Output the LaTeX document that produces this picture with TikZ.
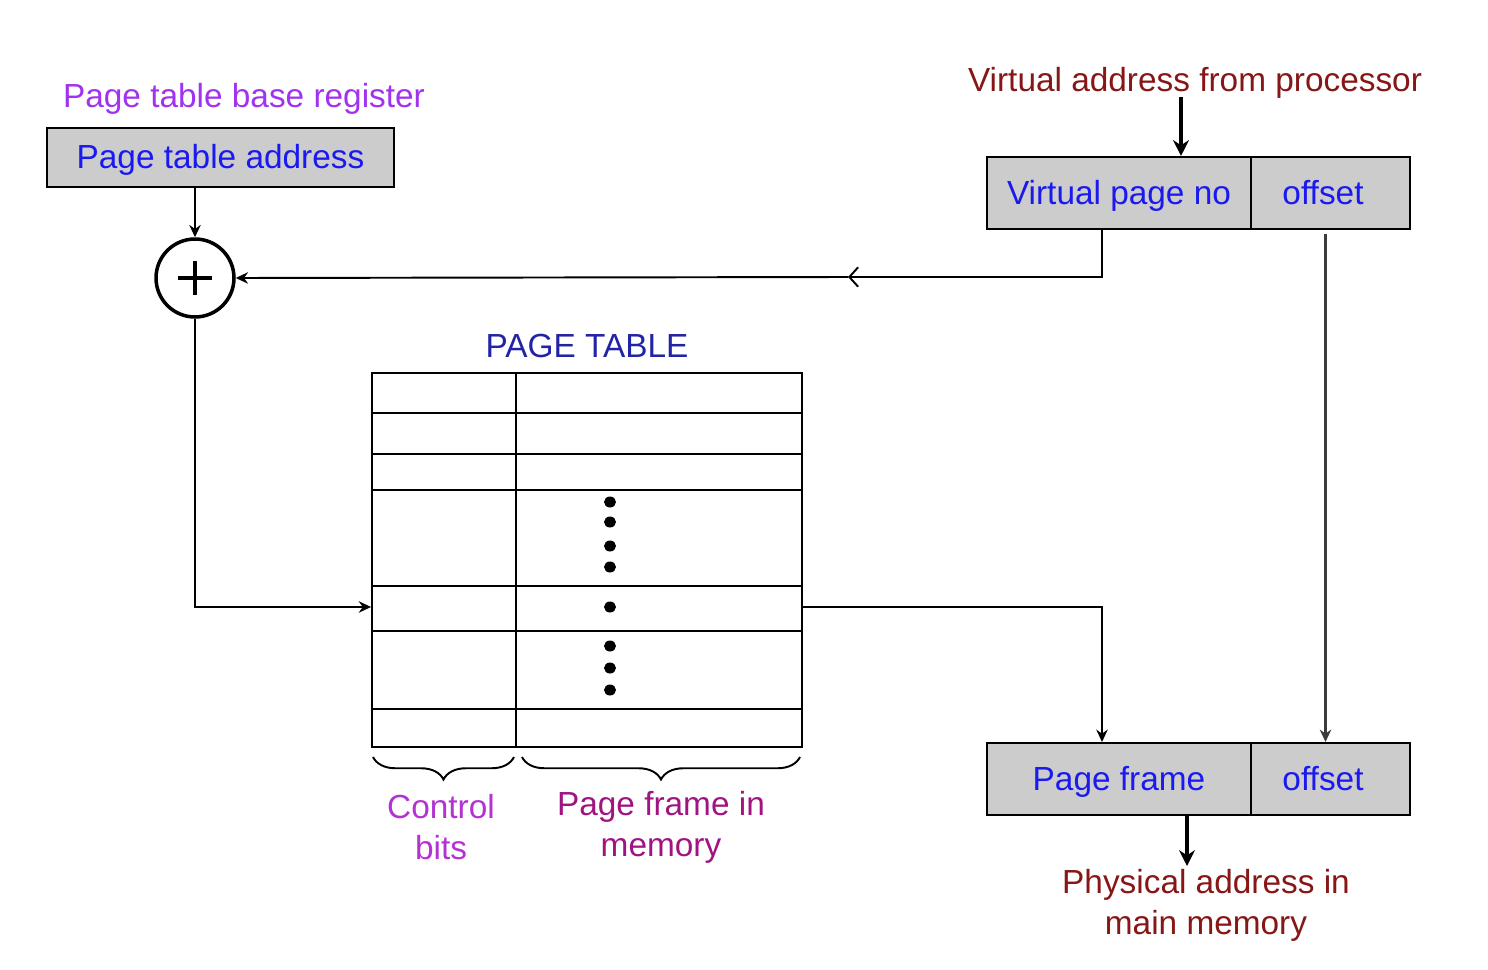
\documentclass[tikz,border=0pt]{standalone}
\usepackage{fontspec}
\setmainfont{Liberation Sans}
\usetikzlibrary{arrows.meta,decorations.pathreplacing,calc}
\definecolor{purpleA}{RGB}{160,50,240}
\definecolor{blueA}{RGB}{25,25,240}
\definecolor{navyA}{RGB}{35,35,165}
\definecolor{darkredA}{RGB}{135,22,22}
\definecolor{violetA}{RGB}{180,50,210}
\definecolor{magentaA}{RGB}{160,20,130}
\definecolor{boxgray}{RGB}{204,204,204}
\definecolor{linegray}{RGB}{60,60,60}
\begin{document}
\begin{tikzpicture}[x=0.02cm,y=-0.02cm,
  every node/.style={font=\fontsize{19}{23.2}\selectfont},
  graybox/.style={draw, fill=boxgray, line width=1.2pt, inner sep=0pt, text=blueA, text height=13pt, text depth=0pt},
  thinline/.style={line width=1.1pt},
  arr/.style={thinline, -{Stealth[length=7pt,width=6.5pt]}},
  bigarr/.style={line width=2pt, -{Stealth[length=9pt,width=9pt]}},
  openarr/.style={thinline, -{Straight Barb[length=5pt,width=11pt]}},
  bracestyle/.style={thinline, decorate, decoration={brace, mirror, amplitude=0.45cm}}
]
\useasboundingbox (0,0) rectangle (1488,970);

% Page table base register
\node[text=purpleA] (ptbr) at (244,99) {Page table base register};
\node[graybox, minimum width=6.94cm, minimum height=1.18cm] (pta) at (220.5,157.5) {Page table address};

% adder
\node[circle, draw, line width=2pt, minimum size=1.56cm, inner sep=0pt] (adder) at (195,278) {};
\draw[line width=2.2pt] ($(adder.center)+(-17,0)$) -- ($(adder.center)+(17,0)$);
\draw[line width=2.2pt] ($(adder.center)+(0,-17)$) -- ($(adder.center)+(0,17)$);
\draw[arr] (pta.south -| adder.north) -- (adder.north);

% virtual address
\node[text=darkredA] (va) at (1195,83) {Virtual address from processor};
\node[graybox, minimum width=5.28cm, minimum height=1.44cm] (vpn) at (1119,193) {Virtual page no};
\node[graybox, minimum width=3.18cm, minimum height=1.44cm] (voff) at (1330.5,193) {\hspace*{-0.3cm}offset};
\coordinate (vain) at (1181,97);
\draw[bigarr] (vain) -- (vain |- vpn.north);

% VPN to adder
\coordinate (mid) at (848,277);
\draw[openarr] ($(vpn.south)+(-17,0)$) |- (mid);
\draw[arr] (mid) -- (adder.east);

% Page table
\node[text=navyA] (pttitle) at (587,346) {PAGE TABLE};
\node[draw, thinline, minimum width=8.6cm, minimum height=7.48cm, inner sep=0pt] (ptab) at (587,560) {};
\foreach \yy in {413,454,490,586,631,709}
  \draw[thinline] (ptab.west |- 0,\yy) -- (ptab.east |- 0,\yy);
\draw[thinline] (ptab.north -| 516,0) -- (ptab.south -| 516,0);
\foreach \yy in {502,522,546,567,607,646,668,690}
  \fill (610,\yy) ellipse (6 and 5.5);

% adder to table
\coordinate (row) at (372,607);
\draw[arr] (adder.south) |- (ptab.west |- row);

% physical address
\node[graybox, minimum width=5.28cm, minimum height=1.44cm] (pfr) at (1119,779) {Page frame};
\node[graybox, minimum width=3.18cm, minimum height=1.44cm] (poff) at (1330.5,779) {\hspace*{-0.3cm}offset};
\draw[arr] (ptab.east |- row) -| ($(pfr.north)+(-17,0)$);
\draw[arr, line width=1.3pt, draw=linegray] ($(voff.south)+(-5,4)$) -- ($(poff.north)+(-5,0)$);

\node[text=darkredA, align=center] (pa) at (1206,905) {Physical address in\\main memory};
\coordinate (paout) at (1187,866);
\draw[bigarr] (paout |- pfr.south) -- (paout);

% braces
\coordinate (b1l) at (373,757);
\coordinate (b1r) at (514,757);
\coordinate (b2l) at (522,757);
\coordinate (b2r) at (800,757);
\draw[bracestyle] (b1l) -- (b1r);
\draw[bracestyle] (b2l) -- (b2r);
\node[text=violetA, align=center] (cb) at (441,827) {Control\\bits};
\node[text=magentaA, align=center] (pfm) at (661,827) {Page frame in\\memory};
\end{tikzpicture}
\end{document}
